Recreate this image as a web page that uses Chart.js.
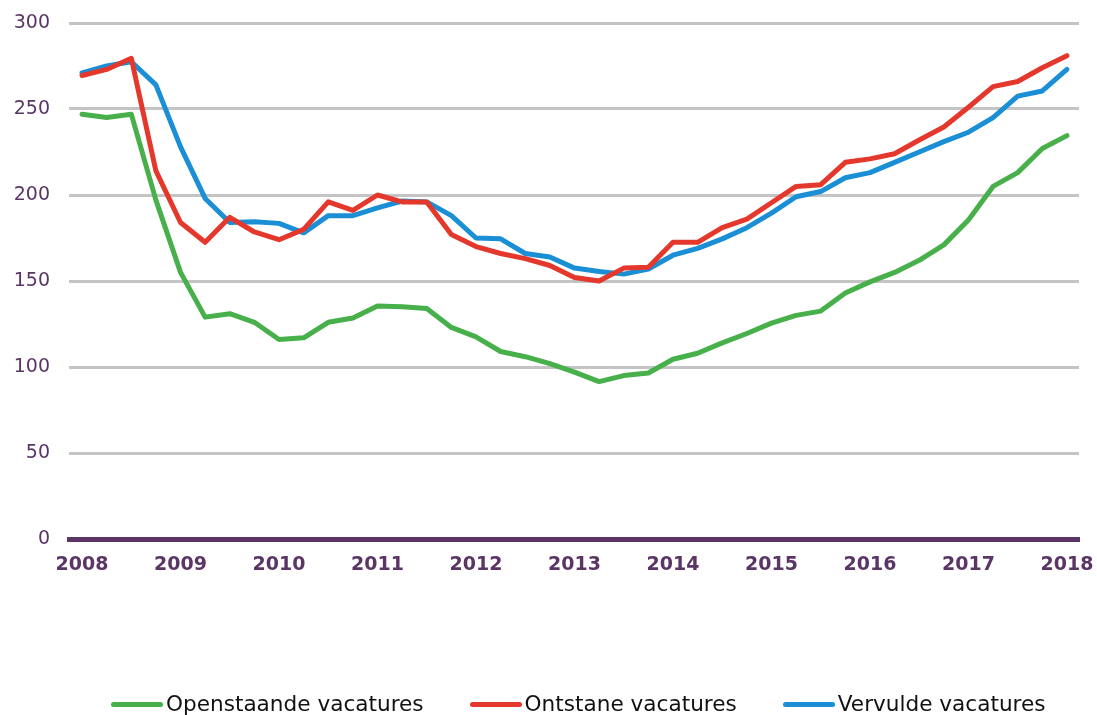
<!DOCTYPE html>
<html>
<head>
<meta charset="utf-8">
<script src="https://cdn.jsdelivr.net/npm/chart.js@4/dist/chart.umd.min.js"></script>
<style>
    html, body { margin: 0; padding: 0; background: #ffffff; }
    #wrap { width: 1097px; height: 715px; position: relative; overflow: hidden; }
    #legend {
        position: absolute;
        left: 111px;
        top: 690px;
        display: flex;
        align-items: center;
        gap: 46px;
        font-family: "DejaVu Sans", sans-serif;
        font-size: 21.6px;
        color: #111111;
        line-height: 28px;
    }
    .legend-item { display: flex; align-items: center; gap: 3px; white-space: nowrap; }
    .legend-line { width: 52px; height: 5px; border-radius: 3px; }
</style>
</head>
<body>
<div id="wrap">
    <canvas id="vacatures-chart"></canvas>
    <div id="legend"></div>
</div>
<script>
// quarterly data, 2008 K1 .. 2018 K1 (x 1000)
const quarters = [
    "2008 K1", "2008 K2", "2008 K3", "2008 K4",
    "2009 K1", "2009 K2", "2009 K3", "2009 K4",
    "2010 K1", "2010 K2", "2010 K3", "2010 K4",
    "2011 K1", "2011 K2", "2011 K3", "2011 K4",
    "2012 K1", "2012 K2", "2012 K3", "2012 K4",
    "2013 K1", "2013 K2", "2013 K3", "2013 K4",
    "2014 K1", "2014 K2", "2014 K3", "2014 K4",
    "2015 K1", "2015 K2", "2015 K3", "2015 K4",
    "2016 K1", "2016 K2", "2016 K3", "2016 K4",
    "2017 K1", "2017 K2", "2017 K3", "2017 K4",
    "2018 K1"
];
const yearLabels = ["2008", "2009", "2010", "2011", "2012", "2013", "2014", "2015", "2016", "2017", "2018"];
const yTicks = [0, 50, 100, 150, 200, 250, 300];

const openstaande = [
    247, 245, 247, 197, 155, 129, 131, 126, 116, 117,
    126, 128.5, 135.5, 135, 134, 123, 117.5, 109, 106, 102,
    97, 91.5, 95, 96.5, 104.5, 108, 114, 119.5, 125.5, 130,
    132.5, 143, 149.5, 155, 162, 171, 185.5, 205, 213, 227,
    234.5
];
const ontstane = [
    269.5, 273, 279.5, 214, 184, 172.5, 187, 178.5, 174, 180,
    196, 191, 200, 196, 196, 177, 170, 166, 163, 159,
    152, 150, 157.5, 158, 172.5, 172.5, 181, 186, 195.5, 205,
    206, 219, 221, 224, 232, 239.5, 251, 263, 266, 274,
    281
];
const vervulde = [
    271, 275, 277.5, 264, 228, 198, 184, 184.5, 183.5, 178,
    188, 188, 192.5, 196.5, 196, 188, 175, 174.5, 166, 164,
    157.5, 155.5, 154, 157, 165, 169, 174.5, 181, 189.5, 199,
    202, 210, 213, 219, 225, 231, 236.5, 245, 257.5, 260.5,
    273
];

const PURPLE = "#5b3566";
const GRID = "#c4c4c4";

function toPoints(values) {
    return values.map((v, i) => ({ x: i, y: v }));
}

function makeLine(label, values, color) {
    return {
        label: label,
        data: toPoints(values),
        borderColor: color,
        backgroundColor: color,
        borderWidth: 5,
        borderCapStyle: "round",
        borderJoinStyle: "round",
        pointRadius: 0,
        tension: 0,
        fill: false,
    };
}

// Builds the legend below the chart from the chart's own legend items
const htmlLegend = {
    id: "htmlLegend",
    afterUpdate(chart) {
        const box = document.getElementById("legend");
        box.innerHTML = "";
        const items = chart.options.plugins.legend.labels.generateLabels(chart);
        items.forEach((item) => {
            const div = document.createElement("div");
            div.className = "legend-item";
            div.innerHTML = `<span class="legend-line" style="background:${item.strokeStyle}"></span><span>${item.text}</span>`;
            box.appendChild(div);
        });
    },
};

const ctx = document.getElementById("vacatures-chart");

new Chart(ctx, {
    type: "line",
    data: {
        datasets: [
            makeLine("Openstaande vacatures", openstaande, "#47b04b"),
            makeLine("Ontstane vacatures", ontstane, "#e4382c"),
            makeLine("Vervulde vacatures", vervulde, "#1b8fd5"),
        ],
    },
    options: {
        responsive: true,
        maintainAspectRatio: false,
        animation: false,
        layout: {
            padding: { top: 23, right: 18, bottom: 0, left: 0 },
        },
        scales: {
            x: {
                type: "linear",
                min: -0.53,
                max: 40.49,
                afterBuildTicks: (scale) => {
                    // one tick per year, at the first quarter
                    scale.ticks = yearLabels.map((y) => ({ value: quarters.indexOf(y + " K1") }));
                },
                afterFit: (scale) => {
                    scale.height = 176;
                    scale.paddingLeft = 0;
                    scale.paddingRight = 0;
                },
                grid: { display: false, drawTicks: false },
                border: { display: true, color: PURPLE, width: 5 },
                ticks: {
                    autoSkip: false,
                    maxRotation: 0,
                    padding: 15,
                    color: PURPLE,
                    font: { family: "DejaVu Sans", size: 19, weight: "bold" },
                    callback: (value) => quarters[value] ? quarters[value].slice(0, 4) : "",
                },
            },
            y: {
                min: 0,
                max: 300,
                afterBuildTicks: (scale) => {
                    scale.ticks = yTicks.map((v) => ({ value: v }));
                },
                afterFit: (scale) => {
                    scale.width = 69;
                    scale.paddingTop = 0;
                    scale.paddingBottom = 0;
                },
                grid: {
                    drawTicks: false,
                    lineWidth: 3,
                    color: (c) => (c.tick && c.tick.value === 0 ? "rgba(0,0,0,0)" : GRID),
                },
                border: { display: false },
                ticks: {
                    padding: 19,
                    color: PURPLE,
                    font: { family: "DejaVu Sans", size: 19 },
                },
            },
        },
        plugins: {
            tooltip: { enabled: false },
            legend: { display: false },
        },
    },
    plugins: [htmlLegend],
});
</script>
</body>
</html>
